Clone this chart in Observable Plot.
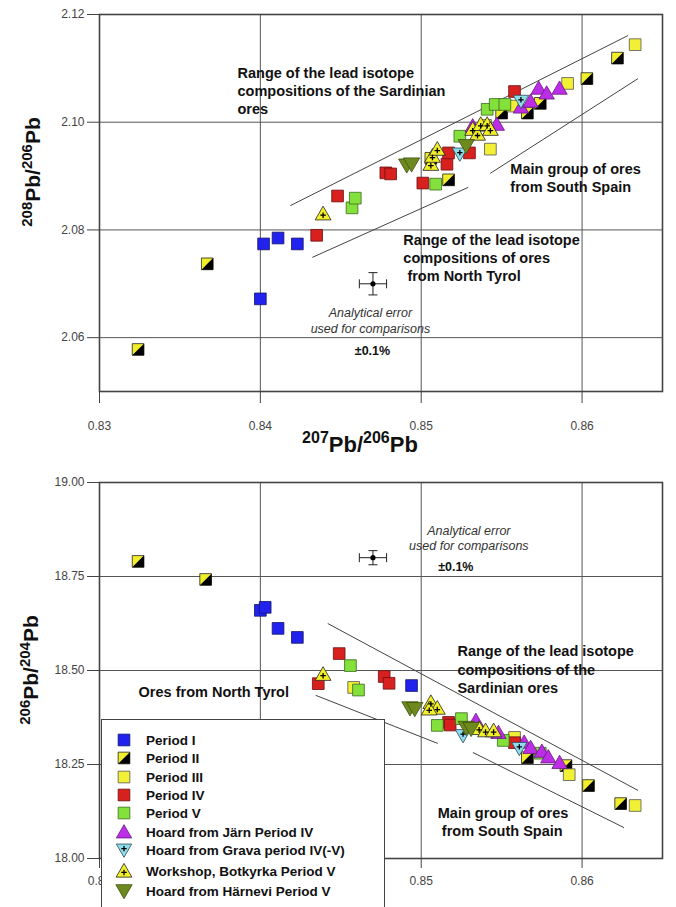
<!DOCTYPE html>
<html><head><meta charset="utf-8">
<script src="https://cdn.jsdelivr.net/npm/d3@7"></script>
<script src="https://cdn.jsdelivr.net/npm/@observablehq/plot@0.6"></script>
<style>
html,body{margin:0;padding:0;background:#fff;}
body{width:676px;height:907px;position:relative;overflow:hidden;font-family:"Liberation Sans",Arial,sans-serif;}
#top{position:absolute;left:0;top:0;}
#bottom{position:absolute;left:0;top:460px;}
#legend{position:absolute;left:101px;top:719px;width:284px;height:200px;border:1.5px solid #444;background:#fff;box-sizing:border-box;}
.row{position:absolute;left:0;height:20px;display:flex;align-items:center;font-weight:bold;font-size:13.5px;color:#111;white-space:nowrap;}
.row svg{margin-left:13px;margin-right:13px;}
</style></head><body>
<div id="top"></div><div id="bottom"></div><div id="legend"></div>
<script>
// ---------- axis ticks ----------
const xTicks = [0.83, 0.84, 0.85, 0.86];
const botXTicks = [0.83, 0.85, 0.86]; // 0.84 is hidden behind the legend in the original
const xGrid = [0.84, 0.85, 0.86];
const topYTicks = [2.06, 2.08, 2.10, 2.12];
const botYTicks = [18.00, 18.25, 18.50, 18.75, 19.00];

const seriesNames = ["Period I", "Period II", "Period III", "Period IV", "Period V",
  "Hoard from Järn Period IV", "Hoard from Grava period IV(-V)",
  "Workshop, Botkyrka Period V", "Hoard from Härnevi Period V"];

// ---------- top panel: 207Pb/206Pb vs 208Pb/206Pb ----------
const topPeriodI = [[0.8402,2.0774],[0.8411,2.0785],[0.8423,2.0774],[0.8400,2.0672]];
const topPeriodII = [[0.8324,2.0578],[0.8367,2.0737],[0.8517,2.0893],[0.8506,2.0933],[0.8550,2.1017],[0.8566,2.1017],[0.8574,2.1035],[0.8603,2.1081],[0.8622,2.1119]];
const topPeriodIII = [[0.8543,2.0950],[0.8557,2.1030],[0.8540,2.0994],[0.8591,2.1072],[0.8633,2.1144]];
const topPeriodIV = [[0.8435,2.0790],[0.8448,2.0863],[0.8478,2.0906],[0.8481,2.0904],[0.8501,2.0887],[0.8516,2.0922],[0.8517,2.0943],[0.8530,2.0943],[0.8558,2.1057]];
const topPeriodV = [[0.8457,2.0841],[0.8459,2.0859],[0.8509,2.0885],[0.8524,2.0974],[0.8541,2.1024],[0.8546,2.1033],[0.8552,2.1033]];
const topJarn = [[0.8532,2.0993],[0.8547,2.0996],[0.8562,2.1028],[0.8568,2.1039],[0.8573,2.1063],[0.8578,2.1054],[0.8586,2.1063]];
const topGrava = [[0.8524,2.0941],[0.8562,2.1039]];
const topBotkyrka = [[0.8439,2.0830],[0.8506,2.0922],[0.8507,2.0937],[0.8510,2.0950],[0.8532,2.0987],[0.8535,2.0978],[0.8537,2.0996],[0.8541,2.0996],[0.8543,2.0987]];
const topHarnevi = [[0.8491,2.0920],[0.8494,2.0922],[0.8528,2.0956]];

// ---------- bottom panel: 207Pb/206Pb vs 206Pb/204Pb ----------
const botPeriodI = [[0.8400,18.660],[0.8403,18.668],[0.8411,18.612],[0.8423,18.588],[0.8494,18.460]];
const botPeriodII = [[0.8324,18.790],[0.8366,18.742],[0.8566,18.268],[0.8590,18.247],[0.8604,18.194],[0.8624,18.146]];
const botPeriodIII = [[0.8458,18.455],[0.8558,18.322],[0.8592,18.223],[0.8633,18.141]];
const botPeriodIV = [[0.8436,18.465],[0.8449,18.545],[0.8477,18.484],[0.8480,18.466],[0.8517,18.362],[0.8518,18.355],[0.8558,18.308]];
const botPeriodV = [[0.8456,18.513],[0.8461,18.448],[0.8510,18.354],[0.8525,18.372],[0.8551,18.314],[0.8574,18.280]];
const botJarn = [[0.8534,18.367],[0.8548,18.335],[0.8564,18.309],[0.8568,18.295],[0.8575,18.285],[0.8579,18.270],[0.8586,18.255]];
const botGrava = [[0.8526,18.327],[0.8561,18.293]];
const botBotkyrka = [[0.8439,18.490],[0.8506,18.415],[0.8510,18.400],[0.8505,18.398],[0.8536,18.346],[0.8540,18.340],[0.8545,18.340]];
const botHarnevi = [[0.8493,18.400],[0.8496,18.398],[0.8528,18.348],[0.8531,18.345]];

// ---------- field boundaries ----------
const topLines = [
  {x1:0.84186, y1:2.0845, x2:0.86286, y2:2.1161},
  {x1:0.84323, y1:2.0749, x2:0.85292, y2:2.0879},
  {x1:0.85429, y1:2.0905, x2:0.86348, y2:2.1081}
];
const botLines = [
  {x1:0.84419, y1:18.625, x2:0.86348, y2:18.181},
  {x1:0.84344, y1:18.434, x2:0.85103, y2:18.306},
  {x1:0.85321, y1:18.282, x2:0.86261, y2:18.082}
];

// ---------- analytical error (±0.1%) ----------
const topErr = [{x:0.847, y:2.070, ex:0.000847, ey:0.00207}];
const botErr = [{x:0.847, y:18.80, ex:0.000847, ey:0.0188}];

// ---------- annotations ----------
const topNotes = [
  {x:0.83858, y:2.1107, text:"Range of the lead isotope\ncompositions of the Sardinian\nores"},
  {x:0.85554, y:2.0929, text:"Main group of ores\nfrom South Spain"},
  {x:0.84889, y:2.0797, text:"Range of the lead isotope\ncompositions of ores\n\u00a0from North Tyrol"}
];
const topErrNote = [{x:0.84684, y:2.0658, text:"Analytical error\nused for comparisons"}];
const topPct = [{x:0.84697, y:2.0576, text:"±0.1%"}];
const botNotes = [
  {x:0.85225, y:18.572, text:"Range of the lead isotope\ncompositions of the\nSardinian ores"},
  {x:0.85103, y:18.1436, text:"Main group of ores\n\u00a0from South Spain"},
  {x:0.83243, y:18.463, text:"Ores from North Tyrol"}
];
const botErrNote = [{x:0.85296, y:18.891, text:"Analytical error\nused for comparisons"}];
const botPct = [{x:0.85215, y:18.774, text:"±0.1%"}];

// ---------- symbols ----------
const rad = s => Math.sqrt(s / Math.PI);
const SYM = {
  square: d3.symbolSquare,
  halfBR: {draw(c, s){ const h = Math.sqrt(s)/2; c.moveTo(h,-h); c.lineTo(h,h); c.lineTo(-h,h); c.closePath(); }},
  triUp: {draw(c, s){ const r = rad(s); c.moveTo(0,-1.15*r); c.lineTo(1.2*r,0.93*r); c.lineTo(-1.2*r,0.93*r); c.closePath(); }},
  triDown: {draw(c, s){ const r = rad(s); c.moveTo(0,1.15*r); c.lineTo(1.2*r,-0.93*r); c.lineTo(-1.2*r,-0.93*r); c.closePath(); }},
  plusUp: {draw(c, s){ const r = rad(s), cy = 0.22*r, a = 0.42*r; c.moveTo(-a,cy); c.lineTo(a,cy); c.moveTo(0,cy-a); c.lineTo(0,cy+a); }},
  plusDown: {draw(c, s){ const r = rad(s), cy = -0.22*r, a = 0.42*r; c.moveTo(-a,cy); c.lineTo(a,cy); c.moveTo(0,cy-a); c.lineTo(0,cy+a); }},
  vbar: {draw(c, s){ const r = rad(s); c.moveTo(0,-r); c.lineTo(0,r); }},
  hbar: {draw(c, s){ const r = rad(s); c.moveTo(-r,0); c.lineTo(r,0); }}
};

const STYLE = {
  "Period I": {sym:SYM.square, r:6.6, fill:"#2222ee", stroke:"#14146a"},
  "Period II": {sym:SYM.square, r:6.6, fill:"#f2ee2a", stroke:"#222", half:true},
  "Period III": {sym:SYM.square, r:6.6, fill:"#f2f034", stroke:"#555"},
  "Period IV": {sym:SYM.square, r:6.6, fill:"#d8201e", stroke:"#6a1010"},
  "Period V": {sym:SYM.square, r:6.6, fill:"#84e03a", stroke:"#3a6a20"},
  "Hoard from Järn Period IV": {sym:SYM.triUp, r:6.4, fill:"#bb2ee6", stroke:"#6a1880"},
  "Hoard from Grava period IV(-V)": {sym:SYM.triDown, r:6.4, fill:"#8fdcea", stroke:"#2a4a5a", plus:SYM.plusDown},
  "Workshop, Botkyrka Period V": {sym:SYM.triUp, r:6.6, fill:"#f2ee28", stroke:"#222", plus:SYM.plusUp},
  "Hoard from Härnevi Period V": {sym:SYM.triDown, r:6.8, fill:"#6e8a1e", stroke:"#3e5010"}
};

function seriesMarks(data, name) {
  const st = STYLE[name];
  const px = d => d[0], py = d => d[1];
  const ms = [Plot.dot(data, {x:px, y:py, symbol:st.sym, r:st.r, fill:st.fill, stroke:st.stroke, strokeWidth:0.8})];
  if (st.half) ms.push(Plot.dot(data, {x:px, y:py, symbol:SYM.halfBR, r:st.r, fill:"#000", stroke:"none"}));
  if (st.plus) ms.push(Plot.dot(data, {x:px, y:py, symbol:st.plus, r:st.r, fill:"none", stroke:"#000", strokeWidth:1.3}));
  return ms;
}

function errMarks(err) {
  return [
    Plot.link(err, {x1:d=>d.x-d.ex, x2:d=>d.x+d.ex, y1:"y", y2:"y", stroke:"#222", strokeWidth:1}),
    Plot.link(err, {x1:"x", x2:"x", y1:d=>d.y-d.ey, y2:d=>d.y+d.ey, stroke:"#222", strokeWidth:1}),
    Plot.dot(err, {x:d=>d.x-d.ex, y:"y", symbol:SYM.vbar, r:4.5, fill:"none", stroke:"#222", strokeWidth:1}),
    Plot.dot(err, {x:d=>d.x+d.ex, y:"y", symbol:SYM.vbar, r:4.5, fill:"none", stroke:"#222", strokeWidth:1}),
    Plot.dot(err, {x:"x", y:d=>d.y-d.ey, symbol:SYM.hbar, r:4.5, fill:"none", stroke:"#222", strokeWidth:1}),
    Plot.dot(err, {x:"x", y:d=>d.y+d.ey, symbol:SYM.hbar, r:4.5, fill:"none", stroke:"#222", strokeWidth:1}),
    Plot.dot(err, {x:"x", y:"y", r:2.6, fill:"#000"})
  ];
}

function noteMarks(notes, errNote, pct) {
  return [
    Plot.text(notes, {x:"x", y:"y", text:"text", textAnchor:"start", lineAnchor:"top", fontSize:14.5, fontWeight:"bold", lineHeight:1.27, fill:"#111", fontFamily:"Liberation Sans, Arial, sans-serif"}),
    Plot.text(errNote, {x:"x", y:"y", text:"text", textAnchor:"middle", lineAnchor:"top", fontSize:12.5, fontStyle:"italic", lineHeight:1.25, fill:"#333", fontFamily:"Liberation Sans, Arial, sans-serif"}),
    Plot.text(pct, {x:"x", y:"y", text:"text", textAnchor:"middle", lineAnchor:"middle", fontSize:12.5, fontWeight:"bold", fill:"#111", fontFamily:"Liberation Sans, Arial, sans-serif"})
  ];
}

function addLabel(svg, cx, cy, rot, parts, big, small) {
  const t = d3.select(svg).append("text")
    .attr("transform", `translate(${cx},${cy}) rotate(${rot})`)
    .attr("text-anchor", "middle")
    .attr("font-family", "Liberation Sans, Arial, sans-serif")
    .attr("font-weight", "bold").attr("fill", "#111");
  let raised = false;
  for (const [s, sup] of parts) {
    const ts = t.append("tspan").text(s).attr("font-size", sup ? small : big);
    if (sup && !raised) { ts.attr("dy", -0.4 * big); raised = true; }
    else if (!sup && raised) { ts.attr("dy", 0.4 * big); raised = false; }
  }
}

function panel(cfg) {
  const sets = cfg.sets;
  const marks = [
    Plot.ruleX(xGrid, {stroke:"#555", strokeWidth:1}),
    Plot.ruleY(cfg.yTicks, {stroke:"#555", strokeWidth:1}),
    Plot.frame({stroke:"#444", strokeWidth:1.6}),
    Plot.link(cfg.lines, {x1:"x1", y1:"y1", x2:"x2", y2:"y2", stroke:"#444", strokeWidth:1}),
    ...errMarks(cfg.err),
    ...noteMarks(cfg.notes, cfg.errNote, cfg.pct)
  ];
  seriesNames.forEach((n, i) => marks.push(...seriesMarks(sets[i], n)));
  return Plot.plot({
    width: 676, height: cfg.height,
    marginLeft: 99, marginRight: 14, marginTop: cfg.mt, marginBottom: cfg.mb,
    style: {fontSize: "12px", fontFamily: "Liberation Sans, Arial, sans-serif", color: "#444", background: "transparent"},
    x: {domain: [0.83, 0.865], ticks: cfg.xTicks, tickFormat: d3.format(".2f"), tickSize: cfg.xTickSize, tickPadding: cfg.xTickPad, label: null},
    y: {domain: cfg.yDomain, ticks: cfg.yTicks, tickFormat: d3.format(".2f"), tickSize: 12, tickPadding: 3, label: null},
    marks
  });
}

const topSvg = panel({
  height: 460, mt: 14, mb: 69, yDomain: [2.05, 2.12], yTicks: topYTicks, xTicks: xTicks, xTickSize: 12, xTickPad: 18,
  lines: topLines, err: topErr, notes: topNotes, errNote: topErrNote, pct: topPct,
  sets: [topPeriodI, topPeriodII, topPeriodIII, topPeriodIV, topPeriodV, topJarn, topGrava, topBotkyrka, topHarnevi]
});
addLabel(topSvg, 40, 172, -90, [["208",true],["Pb",false],["/",false],["206",true],["Pb",false]], 21, 15);
addLabel(topSvg, 360, 452, 0, [["207",true],["Pb",false],["/",false],["206",true],["Pb",false]], 22, 16);
document.getElementById("top").appendChild(topSvg);

const botSvg = panel({
  height: 447, mt: 22, mb: 49, yDomain: [18.0, 19.0], yTicks: botYTicks, xTicks: botXTicks, xTickSize: 10, xTickPad: 8,
  lines: botLines, err: botErr, notes: botNotes, errNote: botErrNote, pct: botPct,
  sets: [botPeriodI, botPeriodII, botPeriodIII, botPeriodIV, botPeriodV, botJarn, botGrava, botBotkyrka, botHarnevi]
});
addLabel(botSvg, 38, 210, -90, [["206",true],["Pb",false],["/",false],["204",true],["Pb",false]], 21, 15);
document.getElementById("bottom").appendChild(botSvg);

// ---------- legend ----------
const legendRowsY = [20, 38, 57, 75, 93, 112, 130, 151, 171];
const legend = document.getElementById("legend");
seriesNames.forEach((n, i) => {
  const st = STYLE[n];
  const row = document.createElement("div");
  row.className = "row";
  row.style.top = (legendRowsY[i] - 10) + "px";
  const s = d3.create("svg").attr("width", 18).attr("height", 18).attr("viewBox", "-9 -9 18 18");
  const size = Math.PI * st.r * st.r;
  s.append("path").attr("d", d3.symbol(st.sym, size)()).attr("fill", st.fill).attr("stroke", st.stroke).attr("stroke-width", 0.8);
  if (st.half) s.append("path").attr("d", d3.symbol(SYM.halfBR, size)()).attr("fill", "#000");
  if (st.plus) s.append("path").attr("d", d3.symbol(st.plus, size)()).attr("fill", "none").attr("stroke", "#000").attr("stroke-width", 1.3);
  row.appendChild(s.node());
  const label = document.createElement("span");
  label.textContent = n;
  row.appendChild(label);
  legend.appendChild(row);
});
</script></body></html>
